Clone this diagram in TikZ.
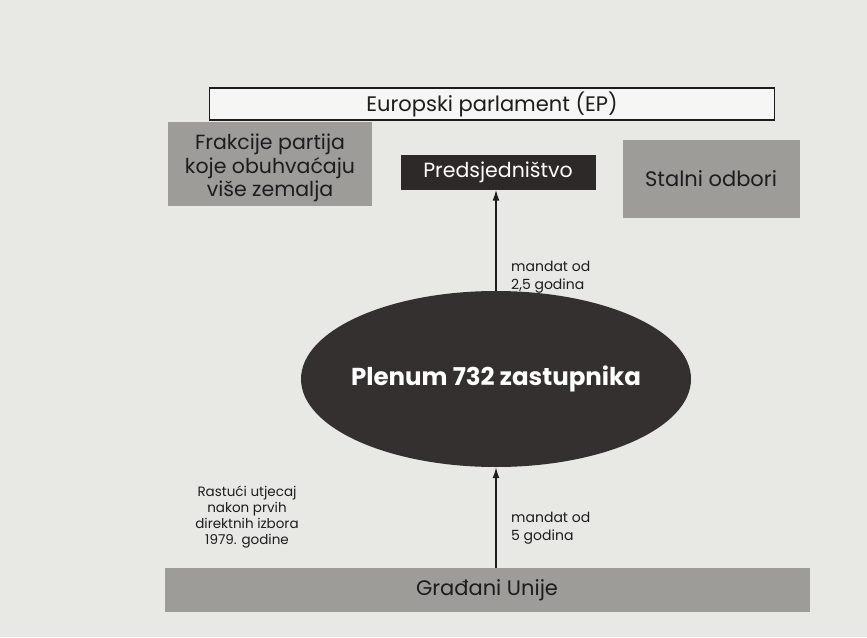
\documentclass[tikz,border=0pt]{standalone}
\usepackage{fontspec}
\setmainfont{Poppins}
\usetikzlibrary{shapes.geometric,arrows.meta}
\definecolor{page}{RGB}{232,232,229}
\definecolor{boxgray}{RGB}{158,156,153}
\definecolor{darkbox}{RGB}{45,41,41}
\definecolor{ink}{RGB}{30,28,28}
\tikzset{
  graybox/.style={fill=boxgray, draw=none, text=ink, align=center, inner sep=0pt},
  darkrect/.style={fill=darkbox, draw=none, text=white, inner sep=0pt},
  conn/.style={draw=ink, line width=1.5pt, -{Latex[length=11pt,width=7pt]}},
  lbl/.style={text=ink, font=\fontsize{14}{17.5}\selectfont, inner sep=0pt}
}
\begin{document}
\begin{tikzpicture}[x=1pt,y=-1pt]
\useasboundingbox[fill=page] (0,0) rectangle (867,637);
\node[draw=ink, line width=1.4pt, fill=white!60!page, minimum width=565pt, minimum height=32pt, inner sep=0pt,
  font=\fontsize{21}{24}\selectfont, text=ink] (ep) at (492,104) {Europski parlament (EP)};
\node[graybox, minimum width=204pt, minimum height=84pt] (fr) at (270,164) {};
\node[text=ink, align=center, inner sep=0pt, font=\fontsize{20.5}{23.5}\selectfont] (frtext) at ([yshift=-4pt]fr.center)
  {Frakcije partija\\koje obuhvaćaju\\više zemalja};
\node[darkrect, minimum width=195pt, minimum height=35pt, font=\fontsize{20.5}{23}\selectfont] (pr) at (498,172) {Predsjedništvo};
\node[graybox, minimum width=177pt, minimum height=78pt, font=\fontsize{21}{24}\selectfont] (so) at (711,179) {Stalni odbori};
\node[ellipse, fill=darkbox!92!gray, draw=none, minimum width=390pt, minimum height=176pt, text=white,
  font=\bfseries\fontsize{24.5}{28}\selectfont, inner xsep=-9pt, inner ysep=0pt] (pl) at (496,379) {Plenum 732 zastupnika};
\node[graybox, minimum width=645pt, minimum height=44pt, font=\fontsize{21}{24}\selectfont] (gu) at (487,590) {Građani Unije};
\draw[conn] (pl.north) -- (pl.north |- pr.south);
\draw[conn] (gu.north -| pl.south) -- (pl.south);
\node[lbl, align=left, anchor=west] (m1) at (511,277) {mandat od\\2,5 godina};
\node[lbl, align=left, anchor=west] (m2) at (511,528) {mandat od\\5 godina};
\node[lbl, align=center, font=\fontsize{13.5}{16}\selectfont] (ru) at (247,517) {Rastući utjecaj\\nakon prvih\\direktnih izbora\\1979. godine};
\end{tikzpicture}
\end{document}
